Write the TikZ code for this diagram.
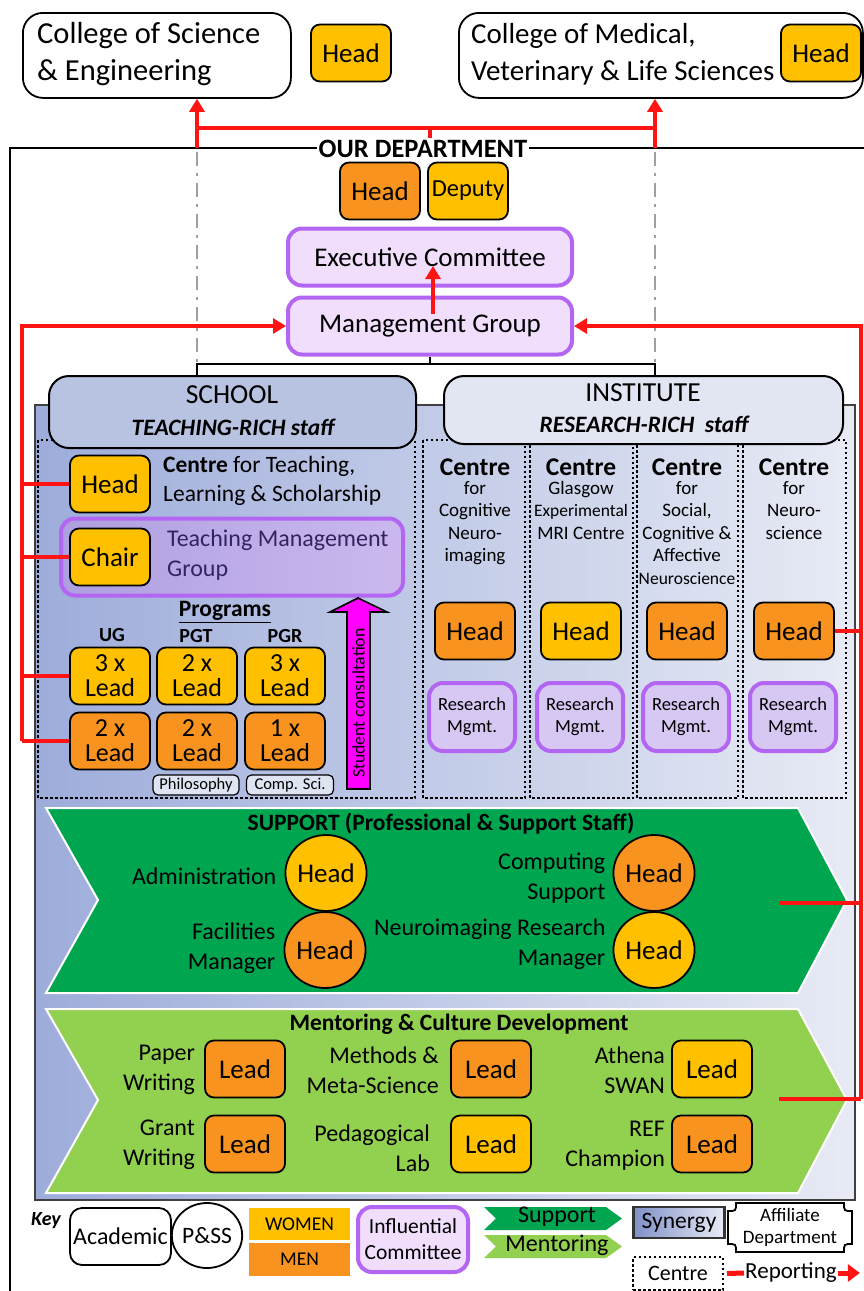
\documentclass[tikz,border=0pt]{standalone}
\usepackage{fontspec}
\setmainfont{Carlito}
\usetikzlibrary{shapes.geometric,arrows.meta}
\newcommand{\FZ}[2]{\fontsize{#1}{#2}\selectfont}
\definecolor{Yel}{HTML}{FFC000}
\definecolor{Org}{HTML}{F7931E}
\definecolor{PurB}{HTML}{B366F2}
\definecolor{PurF}{HTML}{F0DEFC}
\definecolor{RMF}{HTML}{D6C8F2}
\definecolor{TMGL}{HTML}{AE9FE0}
\definecolor{TMGR}{HTML}{CAB8EE}
\definecolor{TMGT}{HTML}{33235F}
\definecolor{DG}{HTML}{00A550}
\definecolor{LG}{HTML}{92D050}
\definecolor{Mag}{HTML}{FF00FF}
\definecolor{SchF}{HTML}{B8C3E2}
\definecolor{InsF}{HTML}{E2E6F3}
\definecolor{SynL}{HTML}{9DACDA}
\definecolor{SynR}{HTML}{E8EBF5}
\definecolor{KSyL}{HTML}{8090C8}
\definecolor{RepRed}{HTML}{FF1414}
\tikzset{
 hd/.style={draw, line width=1.8, rounded corners=9, minimum width=80, minimum height=57, inner sep=0, font=\FZ{27}{27}},
 yb/.style={hd, fill=Yel},
 ob/.style={hd, fill=Org},
 ld/.style={align=center, font=\FZ{26}{25}},
 pbox/.style={draw=PurB, line width=4, fill=PurF, rounded corners=14, inner sep=0},
 rm/.style={pbox, fill=RMF, minimum width=86, minimum height=68, align=center, font=\FZ{18.5}{22}},
 rep/.style={draw=RepRed, line width=4},
 rtip/.style={-{Triangle[length=13pt,width=15pt]}},
 ctr/.style={draw, line width=2.5, dash pattern=on 2.5pt off 2.5pt},
 circ/.style={draw, ellipse, line width=1.8, minimum width=70, minimum height=76, inner sep=0, font=\FZ{27}{27}},
 lab/.style={align=right, font=\FZ{24}{30}, inner sep=0},
 ctxt/.style={align=center, font=\FZ{19}{22.5}, inner sep=0, anchor=north},
 ctit/.style={font=\bfseries\FZ{25.5}{25.5}, inner sep=0},
 conn/.style={draw, line width=2},
 dashdot/.style={draw=gray!75, line width=2.5, dash pattern=on 14pt off 7pt on 3pt off 7pt},
 plain/.style={inner sep=0},
}
\begin{document}
\begin{tikzpicture}[x=1pt,y=-1pt]
\useasboundingbox (0,0) rectangle (863,1291);
\fill[white] (0,0) rectangle (863,1291);

% ---------- colleges ----------
\node[draw, line width=1.8, rounded corners=20, minimum width=268, minimum height=85, anchor=north west, inner sep=0] (cse) at (22,12) {};
\node[plain, anchor=west, align=left, font=\FZ{30.5}{37}] (cseT) at (37,54) {College of Science\\\& Engineering};
\node[yb] (cseH) at (351,53) {Head};
\node[draw, line width=1.8, rounded corners=20, minimum width=404, minimum height=85, anchor=north west, inner sep=0] (cmv) at (458,12) {};
\node[plain, anchor=west, align=left, font=\FZ{29}{37}] (cmvT) at (471,54) {College of Medical,\\Veterinary \& Life Sciences};
\node[yb] (cmvH) at (821,53) {Head};

% ---------- department frame ----------
\coordinate (dL) at (197,148);
\coordinate (dR) at (655,148);
\draw[line width=1.6] (10,1300) -- (10,148) -- (870,148);
\draw[rep] (dL |- 0,128) -- (dR |- 0,128);
\draw[rep] (430,128) -- (430,138);
\draw[rep,rtip] (dL) -- (dL |- cse.south);
\draw[rep,rtip] (dR) -- (dR |- cmv.south);
\node[fill=white, font=\bfseries\FZ{26.5}{26.5}, inner sep=2] (dept) at (423,149) {OUR DEPARTMENT};
\draw[dashdot] ([yshift=-4]dL) -- (197,364);
\draw[dashdot] ([yshift=-4]dR) -- (655,364);

% ---------- synergy area ----------
\shade[left color=SynL, right color=SynR] (35,405) rectangle (855,1200);
\draw[line width=1.5, draw=black!75] (35,405) rectangle (855,1200);

% centre frames
\draw[ctr] (38,440) rectangle (415,798);
\draw[ctr] (423,440) rectangle (525,798);
\draw[ctr] (530,440) rectangle (633,798);
\draw[ctr] (637,440) rectangle (738,798);
\draw[ctr] (743,440) rectangle (846,798);

% headers
\node[draw, line width=2, rounded corners=20, fill=SchF, minimum width=367, minimum height=72, anchor=north west, inner sep=0] (school) at (48,375) {};
\node[plain, font=\FZ{27.5}{27.5}] (schT) at (232,395) {SCHOOL};
\node[plain, font=\bfseries\itshape\FZ{23.5}{23.5}] (schS) at (233,427) {TEACHING-RICH staff};
\node[draw, line width=2, rounded corners=20, fill=InsF, minimum width=399, minimum height=68, anchor=north west, inner sep=0] (inst) at (443,375) {};
\node[plain, font=\FZ{27.5}{27.5}] (insT) at (643,393) {INSTITUTE};
\node[plain, font=\bfseries\itshape\FZ{23.5}{23.5}] (insS) at (644,424) {RESEARCH-RICH\ \ staff};

% ---------- department leadership ----------
\node[ob] (dHead) at (380,191) {Head};
\node[yb, font=\FZ{24.5}{24.5}] (dDep) at (468,191) {Deputy};
\node[pbox, minimum width=284, minimum height=57, font=\FZ{27}{27}] (exec) at (430,257) {Executive Committee};
\node[pbox, minimum width=284, minimum height=57, font=\FZ{27}{27}] (mg) at (430,326) {Management Group};
\draw[rep,rtip] (mg.center) ++(3,-12) -- ++(0,-48);

\coordinate (bus) at (430,364);
\draw[conn] (mg.south) -- (bus);
\draw[conn] (school.north -| dL) |- (bus) -| (inst.north -| dR);

% ---------- school ----------
\node[yb] (tHead) at (110,484) {Head};
\node[plain, anchor=west, align=left, font=\FZ{23.5}{29}] (tclT) at (163,481) {\textbf{Centre} for Teaching,\\Learning \& Scholarship};
\node[pbox, left color=TMGL, right color=TMGR, minimum width=342, minimum height=77] (tmg) at (232,557) {};
\node[yb] (chair) at (110,557) {Chair};
\node[plain, anchor=west, align=left, font=\FZ{24}{30}, text=TMGT] (tmgT) at (167,555) {Teaching Management\\Group};
\node[plain, font=\bfseries\FZ{23.5}{23.5}] (prog) at (225,612) {\underline{Programs}};
\node[plain, font=\bfseries\FZ{20}{20}] (ugT) at (112,635) {UG};
\node[plain, font=\bfseries\FZ{20}{20}] (pgtT) at (196,636) {PGT};
\node[plain, font=\bfseries\FZ{20}{20}] (pgrT) at (285,636) {PGR};
\node[yb, ld] (ug1) at (110,676) {3 x\\Lead};
\node[yb, ld] (pgt1) at (197,676) {2 x\\Lead};
\node[yb, ld] (pgr1) at (285,676) {3 x\\Lead};
\node[ob, ld] (ug2) at (110,741) {2 x\\Lead};
\node[ob, ld] (pgt2) at (197,741) {2 x\\Lead};
\node[ob, ld] (pgr2) at (285,741) {1 x\\Lead};
\node[draw, line width=1.2, rounded corners=5, fill=white!55!SchF, minimum width=86, minimum height=20, inner sep=0, font=\FZ{16.5}{16.5}] (phil) at (196,785) {Philosophy};
\node[draw, line width=1.2, rounded corners=5, fill=white!55!SchF, minimum width=87, minimum height=20, inner sep=0, font=\FZ{16.5}{16.5}] (comp) at (290,785) {Comp. Sci.};
\draw[fill=Mag, line width=1.6] (347,789) -- (347,612) -- (330,612) -- (358,598) -- (387,612) -- (370,612) -- (370,789) -- cycle;
\node[plain, rotate=90, font=\FZ{17.7}{17.7}] (stud) at (358.5,703) {Student consultation};

% ---------- institute centres ----------
\node[ctit] (c1T) at (475,467) {Centre};
\node[ctit] (c2T) at (581,467) {Centre};
\node[ctit] (c3T) at (687,467) {Centre};
\node[ctit] (c4T) at (794,467) {Centre};
\node[ctxt] (c1B) at (475,481) {for\\Cognitive\\Neuro-\\imaging};
\node[ctxt] (c2B) at (581,481) {Glasgow\\{\FZ{17.5}{22.5}Experimental}\\MRI Centre};
\node[ctxt] (c3B) at (687,481) {for\\Social,\\Cognitive \&\\Affective\\{\FZ{17.5}{22}Neuroscience}};
\node[ctxt] (c4B) at (794,481) {for\\Neuro-\\science};
\node[ob] (cH1) at (475,631) {Head};
\node[yb] (cH2) at (581,631) {Head};
\node[ob] (cH3) at (687,631) {Head};
\node[ob] (cH4) at (794,631) {Head};
\node[rm] (rm1) at (472,717) {Research\\Mgmt.};
\node[rm] (rm2) at (580,717) {Research\\Mgmt.};
\node[rm] (rm3) at (686,717) {Research\\Mgmt.};
\node[rm] (rm4) at (793,717) {Research\\Mgmt.};

% ---------- support ----------
\path[fill=DG, draw=white, line width=2] (46,808) -- (798,808) -- (847,900) -- (798,993) -- (46,993) -- (98,900) -- cycle;
\node[plain, font=\bfseries\FZ{23.5}{23.5}] (supT) at (441,824) {SUPPORT (Professional \& Support Staff)};
\node[circ, fill=Yel] (sAdm) at (326,873) {Head};
\node[circ, fill=Org] (sCmp) at (654,873) {Head};
\node[circ, fill=Org] (sFac) at (325,950) {Head};
\node[circ, fill=Yel] (sNeu) at (654,950) {Head};
\node[lab, anchor=east] (lAdm) at ([xshift=-8,yshift=-3]sAdm.west) {Administration};
\node[lab, anchor=east] (lCmp) at ([xshift=-7,yshift=-5]sCmp.west) {Computing\\Support};
\node[lab, anchor=east] (lFac) at ([xshift=-8,yshift=2]sFac.west) {Facilities\\Manager};
\node[lab, anchor=east] (lNeu) at ([xshift=-7,yshift=6]sNeu.west) {Neuroimaging Research\\Manager};

% ---------- mentoring ----------
\path[fill=LG, draw=white, line width=2] (46,1009) -- (798,1009) -- (847,1100) -- (798,1193) -- (46,1193) -- (98,1100) -- cycle;
\node[plain, font=\bfseries\FZ{23.5}{23.5}] (menT) at (459,1024) {Mentoring \& Culture Development};
\node[ob] (mPW) at (245,1069) {Lead};
\node[ob] (mMM) at (491,1069) {Lead};
\node[yb] (mAS) at (712,1069) {Lead};
\node[ob] (mGW) at (245,1144) {Lead};
\node[yb] (mPL) at (491,1144) {Lead};
\node[ob] (mRC) at (712,1144) {Lead};
\node[lab, anchor=east] (lPW) at ([xshift=-9,yshift=-1]mPW.west) {Paper\\Writing};
\node[lab, anchor=east] (lMM) at ([xshift=-11,yshift=-1]mMM.west) {Methods \&\\Meta-Science};
\node[lab, anchor=east] (lAS) at ([xshift=-6,yshift=-1]mAS.west) {Athena\\SWAN};
\node[lab, anchor=east] (lGW) at ([xshift=-9,yshift=-1]mGW.west) {Grant\\Writing};
\node[lab, anchor=east] (lPL) at ([xshift=-20,yshift=-4]mPL.west) {Pedagogical\\Lab};
\node[lab, anchor=east] (lRC) at ([xshift=-6,yshift=-2]mRC.west) {REF\\Champion};

% ---------- reporting lines ----------
\coordinate (LX) at (22,741);
\draw[rep,rtip] (LX) |- (mg.west);
\draw[rep] (LX |- tHead.west) -- (tHead.west);
\draw[rep] (LX |- chair.west) -- (chair.west);
\draw[rep] (LX |- ug1.west) -- (ug1.west);
\draw[rep] (LX) -- (ug2.west);
\coordinate (RX) at (861,1099);
\draw[rep,rtip] (RX) |- (mg.east);
\draw[rep] (cH4.east) -- (RX |- cH4.east);
\coordinate (supR) at (779,903);
\draw[rep] (supR) -- (RX |- supR);
\coordinate (menR) at (779,1099);
\draw[rep] (menR) -- (RX);

% ---------- key ----------
\node[plain, font=\bfseries\itshape\FZ{20}{20}] (keyT) at (46,1221) {Key};
\node[draw, line width=1.8, rounded corners=12, minimum width=101, minimum height=57, inner sep=0, font=\FZ{24}{24}] (kAc) at (120.5,1236.5) {Academic};
\node[draw, ellipse, line width=1.8, minimum width=60, minimum height=65, inner sep=0, font=\FZ{23.5}{23.5}] (kPS) at (207,1235.5) {P\&SS};
\node[fill=Yel, minimum width=101, minimum height=32, inner sep=0, font=\FZ{19.5}{19.5}] (kW) at (299.5,1224) {WOMEN};
\node[fill=Org, minimum width=101, minimum height=33, inner sep=0, font=\FZ{19.5}{19.5}] (kM) at (299.5,1259.5) {MEN};
\node[pbox, minimum width=110, minimum height=65, align=center, font=\FZ{21.5}{26}] (kIC) at (413,1239.5) {Influential\\Committee};
\path[fill=DG] (484,1207) -- (606,1207) -- (622,1218.5) -- (606,1230) -- (484,1230) -- (496,1218.5) -- cycle;
\node[plain, font=\FZ{24}{24}] (kSu) at (557,1217) {Support};
\path[fill=LG] (484,1235) -- (606,1235) -- (622,1246.5) -- (606,1258) -- (484,1258) -- (496,1246.5) -- cycle;
\node[plain, font=\FZ{24}{24}] (kMe) at (557,1245) {Mentoring};
\node[draw=black!80, line width=2.5, left color=KSyL, right color=SynR, minimum width=91, minimum height=31, inner sep=0, font=\FZ{23.5}{23.5}] (kSy) at (679,1222.5) {Synergy};
\draw[line width=1.8, fill=white] (736,1203) -- (844,1203) .. controls (844,1211) .. (852,1211) -- (852,1244) .. controls (844,1244) .. (844,1252) -- (736,1252) .. controls (736,1244) .. (728,1244) -- (728,1211) .. controls (736,1211) .. (736,1203) -- cycle;
\node[plain, align=center, font=\FZ{19}{22}] (kAf) at (790,1227.5) {Affiliate\\Department};
\node[ctr, line width=2, minimum width=90, minimum height=33, inner sep=0, font=\FZ{22}{22}] (kC) at (678,1273.5) {Centre};
\node[inner sep=1, anchor=west, font=\FZ{23}{23}] (kR) at (744,1273) {Reporting};
\draw[draw=RepRed, line width=5] ([xshift=3]kC.east) -- (kR.west);
\draw[draw=RepRed, line width=5, -{Triangle[length=12pt,width=17pt]}] (kR.east) -- ++(22,0);
\end{tikzpicture}
\end{document}
